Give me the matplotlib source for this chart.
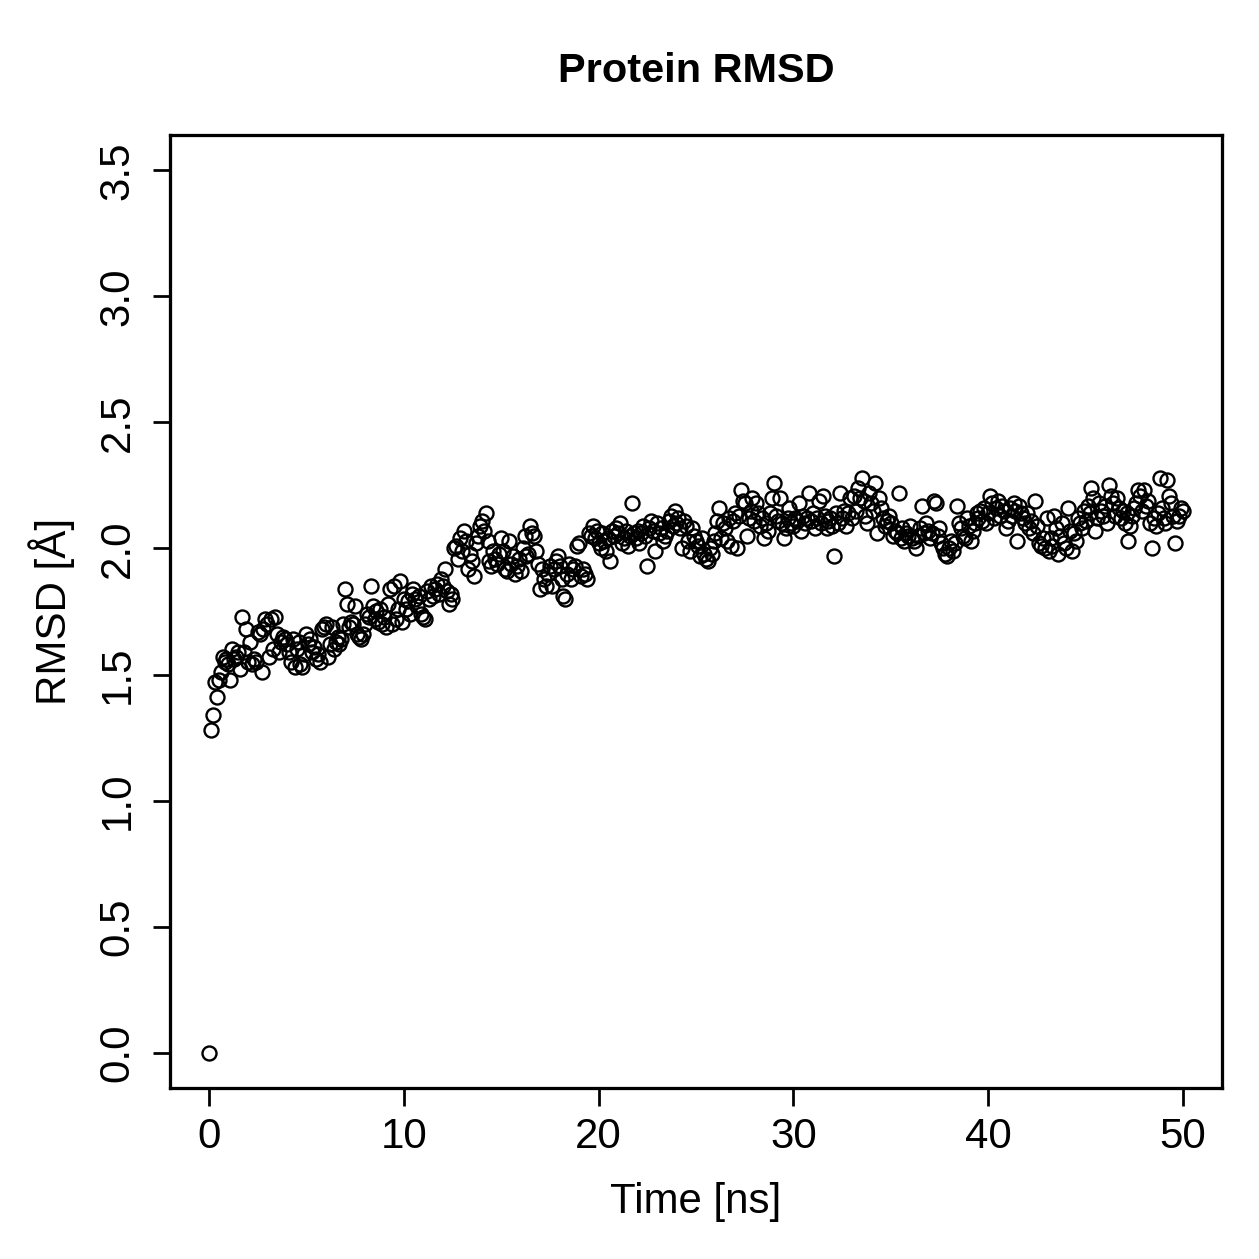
""" Protein RMSD scatter, R base-graphics look """
import numpy as np
import matplotlib
matplotlib.use("Agg")
import matplotlib.pyplot as plt

plt.rcParams["font.family"] = ["Liberation Sans", "DejaVu Sans"]

# RMSD (Angstrom) sampled every 0.1 ns, one row per ns
rmsd = [
    0.00, 1.28, 1.34, 1.47, 1.41, 1.48, 1.51, 1.57, 1.55, 1.56,
    1.54, 1.48, 1.60, 1.56, 1.57, 1.59, 1.52, 1.73, 1.59, 1.68,
    1.55, 1.63, 1.54, 1.56, 1.55, 1.67, 1.66, 1.51, 1.68, 1.72,
    1.70, 1.57, 1.72, 1.60, 1.73, 1.66, 1.59, 1.63, 1.65, 1.64,
    1.62, 1.59, 1.55, 1.64, 1.53, 1.60, 1.63, 1.54, 1.53, 1.58,
    1.66, 1.62, 1.64, 1.59, 1.61, 1.56, 1.58, 1.55, 1.68, 1.69,
    1.70, 1.57, 1.62, 1.69, 1.60, 1.63, 1.65, 1.62, 1.64, 1.70,
    1.84, 1.78, 1.69, 1.71, 1.70, 1.77, 1.66, 1.65, 1.64, 1.66,
    1.70, 1.74, 1.73, 1.85, 1.77, 1.72, 1.75, 1.71, 1.76, 1.70,
    1.73, 1.69, 1.78, 1.84, 1.70, 1.85, 1.72, 1.76, 1.87, 1.71,
    1.80, 1.76, 1.79, 1.74, 1.82, 1.84, 1.80, 1.77, 1.81, 1.74,
    1.73, 1.72, 1.83, 1.80, 1.85, 1.81, 1.84, 1.86, 1.82, 1.88,
    1.85, 1.92, 1.83, 1.78, 1.82, 1.80, 2.00, 2.01, 1.96, 2.04,
    1.99, 2.07, 2.03, 1.92, 1.98, 1.95, 1.89, 2.02, 2.05, 2.09,
    2.11, 2.07, 2.14, 2.03, 1.95, 1.93, 1.99, 1.96, 1.94, 1.98,
    2.04, 1.99, 1.92, 1.91, 2.03, 1.94, 1.97, 1.90, 1.93, 1.96,
    1.91, 2.00, 2.05, 1.97, 1.98, 2.09, 2.06, 2.05, 1.99, 1.94,
    1.84, 1.92, 1.88, 1.85, 1.90, 1.93, 1.85, 1.92, 1.95, 1.97,
    1.93, 1.88, 1.81, 1.80, 1.90, 1.94, 1.88, 1.92, 1.93, 2.01,
    2.02, 1.89, 1.92, 1.90, 1.88, 2.06, 2.05, 2.09, 2.04, 2.07,
    2.02, 2.00, 2.06, 2.03, 1.99, 2.04, 1.95, 2.07, 2.05, 2.08,
    2.06, 2.10, 2.02, 2.04, 2.07, 2.01, 2.05, 2.18, 2.06, 2.04,
    2.07, 2.02, 2.06, 2.09, 2.05, 1.93, 2.08, 2.11, 2.07, 1.99,
    2.10, 2.06, 2.08, 2.03, 2.05, 2.07, 2.11, 2.13, 2.09, 2.15,
    2.10, 2.12, 2.08, 2.00, 2.11, 2.09, 2.03, 1.99, 2.08, 2.05,
    2.03, 2.01, 1.97, 2.04, 1.98, 1.96, 1.95, 2.00, 1.98, 2.03,
    2.06, 2.11, 2.16, 2.04, 2.10, 2.08, 2.03, 2.12, 2.01, 2.11,
    2.14, 2.00, 2.13, 2.23, 2.19, 2.18, 2.05, 2.12, 2.15, 2.20,
    2.11, 2.18, 2.14, 2.09, 2.12, 2.04, 2.10, 2.07, 2.14, 2.20,
    2.26, 2.13, 2.11, 2.20, 2.10, 2.04, 2.08, 2.12, 2.16, 2.10,
    2.09, 2.12, 2.11, 2.18, 2.07, 2.13, 2.10, 2.12, 2.22, 2.11,
    2.14, 2.08, 2.12, 2.19, 2.10, 2.21, 2.13, 2.08, 2.11, 2.12,
    2.09, 1.97, 2.14, 2.10, 2.22, 2.12, 2.15, 2.09, 2.14, 2.20,
    2.12, 2.21, 2.15, 2.24, 2.20, 2.28, 2.19, 2.13, 2.10, 2.22,
    2.18, 2.15, 2.26, 2.06, 2.20, 2.16, 2.12, 2.09, 2.11, 2.13,
    2.10, 2.05, 2.07, 2.06, 2.22, 2.04, 2.08, 2.03, 2.06, 2.05,
    2.09, 2.04, 2.03, 2.00, 2.05, 2.08, 2.17, 2.06, 2.10, 2.07,
    2.04, 2.06, 2.19, 2.18, 2.05, 2.08, 2.02, 2.00, 1.98, 1.97,
    2.00, 2.03, 1.99, 2.02, 2.17, 2.10, 2.08, 2.05, 2.04, 2.12,
    2.09, 2.03, 2.07, 2.10, 2.14, 2.12, 2.15, 2.11, 2.16, 2.10,
    2.14, 2.21, 2.18, 2.12, 2.16, 2.19, 2.13, 2.17, 2.15, 2.08,
    2.11, 2.16, 2.13, 2.18, 2.15, 2.03, 2.17, 2.14, 2.12, 2.10,
    2.14, 2.08, 2.11, 2.06, 2.19, 2.09, 2.02, 2.01, 2.04, 2.00,
    2.12, 1.99, 2.04, 2.01, 2.13, 2.08, 1.98, 2.05, 2.10, 2.02,
    2.00, 2.16, 2.07, 1.99, 2.06, 2.03, 2.12, 2.10, 2.08, 2.15,
    2.11, 2.17, 2.14, 2.24, 2.20, 2.07, 2.12, 2.18, 2.15, 2.13,
    2.17, 2.10, 2.25, 2.21, 2.18, 2.13, 2.20, 2.16, 2.12, 2.15,
    2.10, 2.14, 2.03, 2.09, 2.13, 2.16, 2.18, 2.23, 2.21, 2.15,
    2.23, 2.17, 2.19, 2.10, 2.00, 2.12, 2.09, 2.14, 2.28, 2.16,
    2.12, 2.10, 2.27, 2.21, 2.18, 2.13, 2.02, 2.11, 2.13, 2.16,
    2.15,
]
time_ns = np.arange(len(rmsd)) * 0.1

x_ticks = [0, 10, 20, 30, 40, 50]
y_ticks = [0.0, 0.5, 1.0, 1.5, 2.0, 2.5, 3.0, 3.5]

fig = plt.figure(figsize=(1259 / 180, 1259 / 180), dpi=180)
ax = fig.add_axes([0.135, 0.1358, 0.8356, 0.757])

ax.plot(time_ns, rmsd, linestyle="none", marker="o", markersize=5.6,
        markerfacecolor="none", markeredgecolor="black", markeredgewidth=0.95)

ax.set_xlim(-2, 52)
ax.set_ylim(-0.14, 3.64)
ax.set_xticks(x_ticks)
ax.set_yticks(y_ticks)
ax.set_xticklabels([str(t) for t in x_ticks])
ax.set_yticklabels([f"{t:.1f}" for t in y_ticks], rotation=90, va="center")
ax.tick_params(direction="out", length=7, width=1.1, labelsize=16.8)
ax.tick_params(axis="x", pad=4.4)
ax.tick_params(axis="y", pad=6)

for side in ax.spines.values():
    side.set_linewidth(1.3)

ax.set_title("Protein RMSD", fontsize=16.6, fontweight="bold", pad=21)
ax.set_xlabel("Time [ns]", fontsize=16.8, labelpad=10)
ax.set_ylabel("RMSD [Å]", fontsize=16.8, labelpad=9)

fig.savefig("out.png", dpi=180)
